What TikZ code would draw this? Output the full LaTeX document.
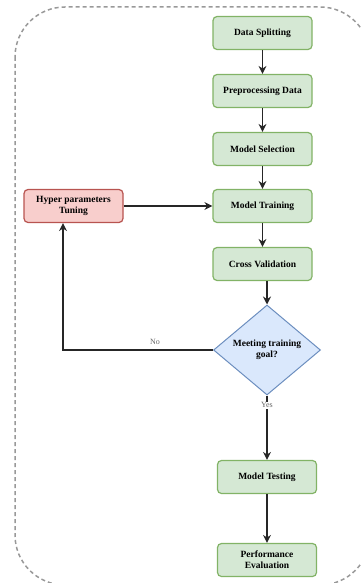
\documentclass[tikz,border=0pt]{standalone}
\usepackage{fontspec}
\setmainfont{Liberation Serif}
\usetikzlibrary{arrows.meta,shapes.geometric}
\definecolor{gfill}{HTML}{D5E8D4}
\definecolor{gdraw}{HTML}{82B366}
\definecolor{rfill}{HTML}{F8CECC}
\definecolor{rdraw}{HTML}{B85450}
\definecolor{bfill}{HTML}{DAE8FC}
\definecolor{bdraw}{HTML}{6C8EBF}
\tikzset{
  x=1pt,y=1pt,
  gbox/.style={draw=gdraw,fill=gfill,line width=1.2pt,rounded corners=4pt,minimum width=99pt,minimum height=33pt,align=center,font=\fontsize{9.5}{11}\selectfont\bfseries,inner sep=1pt},
  rbox/.style={gbox,draw=rdraw,fill=rfill},
  dec/.style={draw=bdraw,fill=bfill,line width=1pt,diamond,minimum width=107pt,minimum height=90pt,aspect=1.19,inner sep=0pt,align=center,font=\fontsize{9.5}{11}\selectfont\bfseries},
  conn/.style={-{Stealth[length=8pt,width=8pt]},line width=1.6pt,black!85},
  lbl/.style={font=\fontsize{8}{9}\selectfont,text=gray!80!black,fill=white,inner sep=1pt}
}
\begin{document}
\begin{tikzpicture}
\useasboundingbox (0,0) rectangle (361,-583);
\begin{scope}
\clip (0,0) rectangle (361,-583);
\draw[gray!80,line width=1.5pt,dash pattern=on 4pt off 3pt,rounded corners=50pt] (15,-7) rectangle (370,-585);
\end{scope}
\node[gbox] (ds) at (262.5,-33) {Data Splitting};
\node[gbox] (pp) at (262.5,-91) {Preprocessing Data};
\node[gbox] (ms) at (262.5,-149) {Model Selection};
\node[gbox] (mt) at (262.5,-206) {Model Training};
\node[gbox] (cv) at (262.5,-264) {Cross Validation};
\node[dec] (goal) at (267,-350) {Meeting training\\goal?};
\node[rbox] (hp) at (73.5,-206) {Hyper parameters\\Tuning};
\node[gbox] (test) at (267,-477) {Model Testing};
\node[gbox] (pe) at (267,-560) {Performance\\Evaluation};
\draw[conn] (ds) -- (pp);
\draw[conn] (pp) -- (ms);
\draw[conn] (ms) -- (mt);
\draw[conn] (mt) -- (cv);
\draw[conn] (cv.south -| goal.north) -- (goal.north);
\draw[conn] (hp) -- (mt);
\draw[conn] (goal.west) -- (63,-350) -- (hp.south -| 63,0);
\node[lbl,fill=none] (no) at (155,-342) {No};
\draw[conn] (goal.south) -- (test.north) node[lbl,pos=0.15] (yes) {Yes};
\draw[conn] (test) -- (pe);
\end{tikzpicture}
\end{document}
